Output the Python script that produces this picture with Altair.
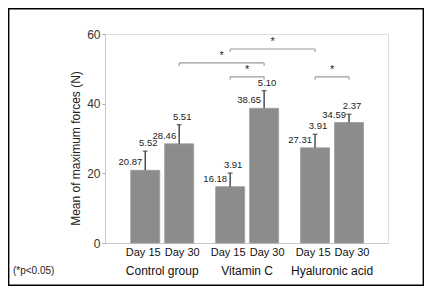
import altair as alt
import pandas as pd

groups = ["Control group", "Vitamin C", "Hyaluronic acid"]
days = ["Day 15", "Day 30"]
means = [20.87, 28.46, 16.18, 38.65, 27.31, 34.59]
sds = [5.52, 5.51, 3.91, 5.10, 3.91, 2.37]

# significance brackets (bar index from / to, height in N)
br_from = [1, 2, 2, 4]
br_to = [3, 4, 3, 5]
br_level = [51.7, 55.7, 47.7, 47.7]
note = "(*p<0.05)"

FONT = "Liberation Sans"
W, H = 283, 209
PL, PT = 97, 26
TOTW, TOTH = 416, 278

# layout: position of each bar on a continuous x scale
pos = [g * 2.5 + d for g in range(len(groups)) for d in range(len(days))]

bars = pd.DataFrame({
    "pos": pos,
    "mean": means,
    "sd": sds,
    "day": [days[d] for g in range(len(groups)) for d in range(len(days))],
})
bars["top"] = bars["mean"] + bars["sd"]

grp = pd.DataFrame({"group": groups,
                    "pos": [g * 2.5 + 0.5 for g in range(len(groups))]})

br = pd.DataFrame({"x1": [pos[i] for i in br_from],
                   "x2": [pos[i] for i in br_to],
                   "level": br_level})
br["mid"] = (br["x1"] + br["x2"]) / 2
ends = pd.DataFrame({"x": list(br["x1"]) + list(br["x2"]),
                     "level": list(br["level"]) * 2})

xs = alt.Scale(domain=[-1.037, 7], nice=False, zero=False)
ys = alt.Scale(domain=[0, 60], nice=False)
xax = alt.Axis(labels=False, ticks=False, title=None, grid=False,
               domainColor="#c8c8c8", domainWidth=1)

X = alt.X("pos:Q", scale=xs, axis=xax)

base = alt.Chart(bars)

bar = base.mark_bar(orient="vertical", size=29, color="#8c8c8c",
                    stroke="#9c9c9c", strokeWidth=0.8).encode(
    x=X,
    y=alt.Y("mean:Q", scale=ys, axis=alt.Axis(
        values=[0, 20, 40, 60], grid=False, title="Mean of maximum forces (N)",
        domainColor="#c8c8c8", tickColor="#aaaaaa", tickSize=3,
        labelFont=FONT, labelFontSize=12, labelColor="#333333", labelPadding=2,
        titleFont=FONT, titleFontSize=12, titleFontWeight="normal",
        titleColor="#222222", titleX=-30, titleY=114, titleAngle=-90,
        titleAlign="center", titleBaseline="middle")),
    y2=alt.datum(0),
)

err = base.mark_rule(color="#333333", strokeWidth=1.3).encode(
    x=X, y=alt.Y("mean:Q", scale=ys), y2="top:Q")
cap = base.mark_tick(orient="horizontal", size=5, thickness=1.3,
                     color="#333333").encode(
    x=X, y=alt.Y("top:Q", scale=ys))

mean_lbl = base.mark_text(align="right", baseline="bottom", dx=-3, dy=-3,
                          font=FONT, fontSize=9.5, color="#222222").encode(
    x=X, y=alt.Y("mean:Q", scale=ys), text=alt.Text("mean:Q", format=".2f"))
sd_lbl = base.mark_text(align="center", baseline="bottom", dx=3, dy=-3,
                        font=FONT, fontSize=9.5, color="#222222").encode(
    x=X, y=alt.Y("top:Q", scale=ys), text=alt.Text("sd:Q", format=".2f"))

day15_lbl = base.transform_filter(alt.datum.day == days[0]).mark_text(
    baseline="top", font=FONT, fontSize=11, color="#111111", dx=-2).encode(
    x=X, y=alt.value(H + 4), text="day:N")
day30_lbl = base.transform_filter(alt.datum.day == days[1]).mark_text(
    baseline="top", font=FONT, fontSize=11, color="#111111", dx=3).encode(
    x=X, y=alt.value(H + 4), text="day:N")

grp_lbl = alt.Chart(grp).mark_text(baseline="middle", font=FONT, fontSize=12,
                                   color="#111111").encode(
    x=alt.X("pos:Q", scale=xs), y=alt.value(H + 28), text="group:N")

br_line = alt.Chart(br).mark_rule(color="#9a9a9a", strokeWidth=1.1).encode(
    x=alt.X("x1:Q", scale=xs), x2="x2:Q", y=alt.Y("level:Q", scale=ys))
br_end = alt.Chart(ends).mark_rule(color="#9a9a9a", strokeWidth=1.1,
                                   y2Offset=3).encode(
    x=alt.X("x:Q", scale=xs), y=alt.Y("level:Q", scale=ys), y2="level:Q")
stars = alt.Chart(br).mark_text(text="*", baseline="alphabetic", dy=-4,
                                font=FONT, fontSize=11, color="#222222").encode(
    x=alt.X("mid:Q", scale=xs), y=alt.Y("level:Q", scale=ys))

one = pd.DataFrame({"note": [note]})
note_txt = alt.Chart(one).mark_text(align="left", baseline="middle",
                                    font=FONT, fontSize=10,
                                    color="#222222").encode(
    x=alt.value(-92), y=alt.value(H + 28), text="note:N")

frame = alt.Chart(one).mark_rect(fill=None, stroke="#000000",
                                 strokeWidth=1.4).encode(
    x=alt.value(-PL + 0.7), x2=alt.value(TOTW - PL - 0.7),
    y=alt.value(-PT + 0.7), y2=alt.value(TOTH - PT - 0.7))

chart = alt.layer(
    bar, err, cap, mean_lbl, sd_lbl, day15_lbl, day30_lbl, grp_lbl,
    br_line, br_end, stars, note_txt, frame
).properties(
    width=W, height=H,
    autosize=alt.AutoSizeParams(type="none"),
    padding={"left": PL, "top": PT, "right": TOTW - PL - W,
             "bottom": TOTH - PT - H},
).configure_view(stroke=None).configure(background="white")

chart.save("out.html", embed_options={"renderer": "svg", "actions": False})
